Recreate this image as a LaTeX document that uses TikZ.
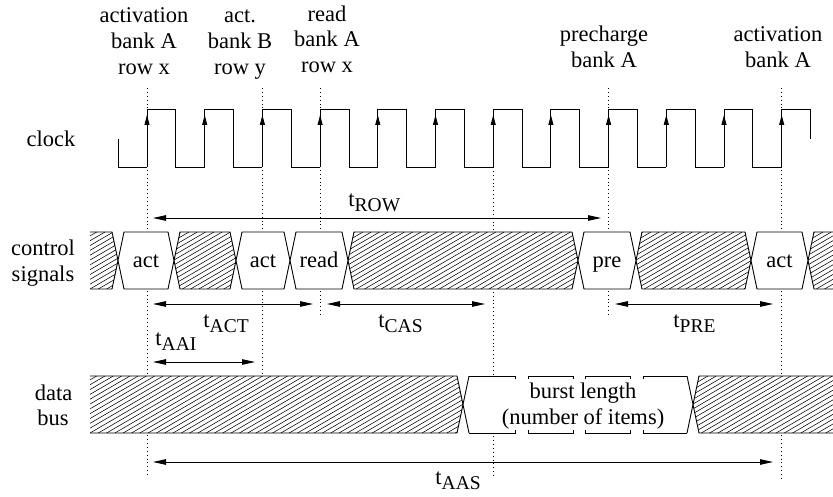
\documentclass[tikz,border=0pt]{standalone}
\usepackage{fontspec}
\setmainfont{Liberation Serif}
\usetikzlibrary{arrows.meta}
\newcommand\tsub[1]{t\raisebox{-5pt}{\fontsize{19.5}{19.5}\selectfont #1}}
\begin{document}
\begin{tikzpicture}[x=1pt,y=-1pt,line width=0.9pt,
  txt/.style={font=\fontsize{22.5}{26}\selectfont,inner sep=0pt,anchor=base},
  tlbl/.style={font=\fontsize{22.5}{26}\selectfont,inner sep=0pt,anchor=base west},
  dotline/.style={line width=0.9pt,dash pattern=on 0.9pt off 3pt},
  hatchline/.style={line width=0.55pt},
  outline/.style={line width=0.9pt},
  dimarrow/.style={line width=0.9pt,{Triangle[length=13pt,width=5.5pt]}-{Triangle[length=13pt,width=5.5pt]}},
  clkarrow/.style={line width=0.9pt,-{Triangle[length=10pt,width=5pt]}},
  whitefill/.style={fill=white,draw=none}]
\useasboundingbox (0,0) rectangle (833,497);

% markers
\coordinate (m1) at (147,0);
\coordinate (m2) at (262.4,0);
\coordinate (m3) at (320.1,0);
\coordinate (m4) at (493.2,0);
\coordinate (m5) at (608.6,0);
\coordinate (m6) at (781.7,0);

% dotted lines
\draw[dotline] (147,88) -- (147,478);
\draw[dotline] (262.4,88) -- (262.4,375);
\draw[dotline] (320.1,88) -- (320.1,316);
\draw[dotline] (493.2,167) -- (493.2,478);
\draw[dotline] (608.6,88) -- (608.6,316);
\draw[dotline] (781.7,88) -- (781.7,480);

% clock
\draw (118,139) -- (118,167) -- (147,167);
\foreach \k in {0,...,10}{
  \draw (147+\k*57.7,167) -- ++(0,-58) -- ++(28.85,0) -- ++(0,58) -- ++(28.85,0);
}
\draw (781.7,167) -- (781.7,109) -- (810.5,109) -- (810.5,139);
\foreach \k in {0,...,11}{
  \draw[clkarrow] (147+\k*57.7,150) -- (147+\k*57.7,115);
}

% ---------- control signals row ----------
\def\T{232}\def\B{289}\def\M{260.5}
% hatched pieces
\fill[white] (90,\T) -- (112,\T) -- (118,\M) -- (112,\B) -- (90,\B) -- cycle;
\begin{scope}
\clip (90,\T) -- (112,\T) -- (118,\M) -- (112,\B) -- (90,\B) -- cycle;
\foreach \i in {-14,...,4} \draw[hatchline] (90+\i*8.3,\B) -- ++(98,-57);
\end{scope}
\draw[outline] (90,\T) -- (112,\T) -- (118,\M) -- (112,\B) -- (90,\B);

\foreach \a/\b in {174/236,348/578,636/751}{
  \fill[white] (\a,\M) -- (\a+6,\T) -- (\b-6,\T) -- (\b,\M) -- (\b-6,\B) -- (\a+6,\B) -- cycle;
  \begin{scope}
  \clip (\a,\M) -- (\a+6,\T) -- (\b-6,\T) -- (\b,\M) -- (\b-6,\B) -- (\a+6,\B) -- cycle;
  \foreach \i in {-14,...,30} \draw[hatchline] (\a+\i*8.3,\B) -- ++(98,-57);
  \end{scope}
  \draw[outline] (\a,\M) -- (\a+6,\T) -- (\b-6,\T) -- (\b,\M) -- (\b-6,\B) -- (\a+6,\B) -- cycle;
}
\fill[white] (833,\T) -- (814,\T) -- (808,\M) -- (814,\B) -- (833,\B) -- cycle;
\begin{scope}
\clip (833,\T) -- (814,\T) -- (808,\M) -- (814,\B) -- (833,\B) -- cycle;
\foreach \i in {-14,...,4} \draw[hatchline] (808+\i*8.3,\B) -- ++(98,-57);
\end{scope}
\draw[outline] (833,\T) -- (814,\T) -- (808,\M) -- (814,\B) -- (833,\B);

% white command boxes
\foreach \a/\b in {118/174,236/290,290/348,578/636,751/808}{
  \filldraw[outline,fill=white] (\a,\M) -- (\a+6,\T) -- (\b-6,\T) -- (\b,\M) -- (\b-6,\B) -- (\a+6,\B) -- cycle;
}
\node[txt] (c1) at (146,268) {act};
\node[txt] (c2) at (263,268) {act};
\node[txt] (c3) at (319,268) {read};
\node[txt] (c4) at (607,268) {pre};
\node[txt] (c5) at (779.5,268) {act};

% ---------- data bus row ----------
\def\T{376}\def\B{433}\def\M{404.5}
\fill[white] (90,\T) -- (457,\T) -- (463,\M) -- (457,\B) -- (90,\B) -- cycle;
\begin{scope}
\clip (90,\T) -- (457,\T) -- (463,\M) -- (457,\B) -- (90,\B) -- cycle;
\foreach \i in {-14,...,46} \draw[hatchline] (90+\i*8.3,\B) -- ++(98,-57);
\end{scope}
\draw[outline] (90,\T) -- (457,\T) -- (463,\M) -- (457,\B) -- (90,\B);

\fill[white] (833,\T) -- (699,\T) -- (693,\M) -- (699,\B) -- (833,\B) -- cycle;
\begin{scope}
\clip (833,\T) -- (699,\T) -- (693,\M) -- (699,\B) -- (833,\B) -- cycle;
\foreach \i in {-14,...,18} \draw[hatchline] (693+\i*8.3,\B) -- ++(98,-57);
\end{scope}
\draw[outline] (833,\T) -- (699,\T) -- (693,\M) -- (699,\B) -- (833,\B);

% burst region
\fill[white] (463,\M) -- (469,\T) -- (687,\T) -- (693,\M) -- (687,\B) -- (469,\B) -- cycle;
\draw[outline] (469,\T) -- (463,\M) -- (469,\B);
\draw[outline] (687,\T) -- (693,\M) -- (687,\B);
\draw[outline] (469,\T) -- (515,\T) -- ++(0,3);
\draw[outline] (528,\T+3) -- (528,\T) -- (573,\T) -- ++(0,3);
\draw[outline] (585,\T+3) -- (585,\T) -- (630,\T) -- ++(0,3);
\draw[outline] (643,\T+3) -- (643,\T) -- (687,\T);
\draw[outline] (469,\B) -- (515,\B) -- ++(0,-3);
\draw[outline] (528,\B-3) -- (528,\B) -- (573,\B) -- ++(0,-3);
\draw[outline] (585,\B-3) -- (585,\B) -- (630,\B) -- ++(0,-3);
\draw[outline] (643,\B-3) -- (643,\B) -- (687,\B);
\node[txt] (b1) at (583,398) {burst length};
\node[txt] (b2) at (583,424) {(number of items)};

% ---------- dimension arrows ----------
\coordinate (rowL) at (153,218);  \coordinate (rowR) at (601,218);
\coordinate (actL) at (153,304);  \coordinate (actR) at (313,304);
\coordinate (casL) at (327,304);  \coordinate (casR) at (485,304);
\coordinate (preL) at (615,304);  \coordinate (preR) at (773,304);
\coordinate (aaiL) at (153,362);  \coordinate (aaiR) at (255,362);
\coordinate (aasL) at (153,462);  \coordinate (aasR) at (773,462);
\draw[dimarrow] (rowL) -- (rowR);
\draw[dimarrow] (actL) -- (actR);
\draw[dimarrow] (casL) -- (casR);
\draw[dimarrow] (preL) -- (preR);
\draw[dimarrow] (aaiL) -- (aaiR);
\draw[dimarrow] (aasL) -- (aasR);
\node[tlbl] (lrow) at (348,207) {\tsub{ROW}};
\node[tlbl] (lact) at (203,327) {\tsub{ACT}};
\node[tlbl] (lcas) at (378,327) {\tsub{CAS}};
\node[tlbl] (lpre) at (673,327) {\tsub{PRE}};
\node[tlbl] (laai) at (155,345) {\tsub{AAI}};
\node[tlbl] (laas) at (435,484) {\tsub{AAS}};

% ---------- row labels ----------
\node[txt] (clk) at (51,147) {clock};
\node[txt] (cs1) at (43,256) {control};
\node[txt] (cs2) at (43,281) {signals};
\node[txt] (db1) at (53.5,400) {data};
\node[txt] (db2) at (53,425) {bus};

% ---------- top labels ----------
\node[txt] (a1) at (144,23) {activation};
\node[txt] (a2) at (144,48.5) {bank A};
\node[txt] (a3) at (144,74.5) {row x};
\node[txt] (b1t) at (240,23) {act.};
\node[txt] (b2t) at (240,48.5) {bank B};
\node[txt] (b3t) at (240,74.5) {row y};
\node[txt] (r1) at (327,21.5) {read};
\node[txt] (r2) at (327,47) {bank A};
\node[txt] (r3) at (327,72.5) {row x};
\node[txt] (p1) at (604,41.5) {precharge};
\node[txt] (p2) at (604,68) {bank A};
\node[txt] (e1) at (778,41.5) {activation};
\node[txt] (e2) at (778,68) {bank A};
\end{tikzpicture}
\end{document}
